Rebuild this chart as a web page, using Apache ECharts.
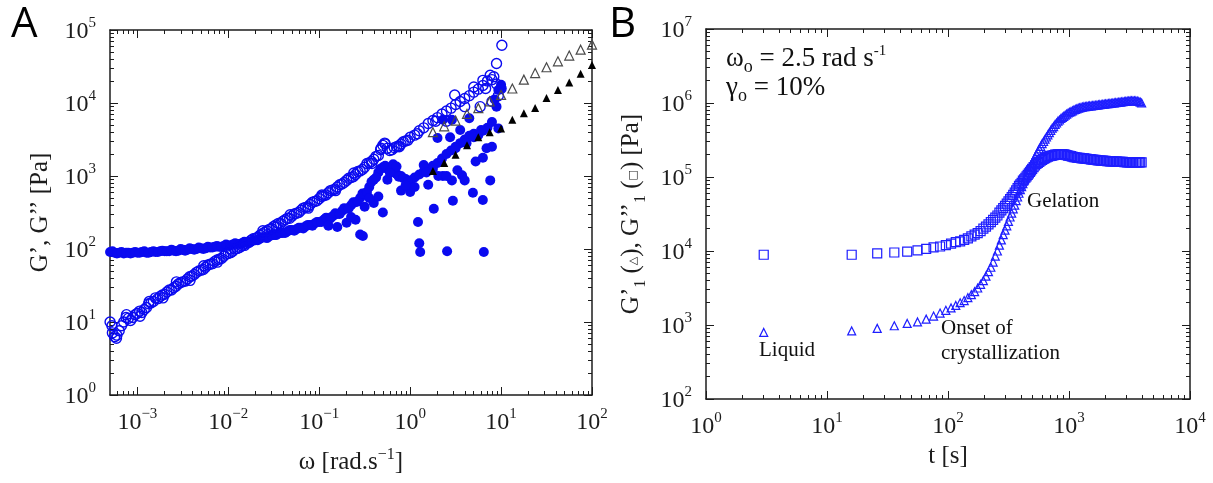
<!DOCTYPE html>
<html>
<head>
<meta charset="utf-8">
<title>G', G'' sweeps</title>
<script src="https://cdn.jsdelivr.net/npm/echarts@6.0.0/dist/echarts.min.js"></script>
<style>
    html, body { margin: 0; padding: 0; background: #fff; }
    #chart { width: 1213px; height: 483px; }
</style>
</head>
<body>
<div id="chart"></div>
<script>
// ---------- panel A : frequency sweep ----------
const omegaA = [0.000501, 0.000562, 0.000631, 0.000708, 0.000794, 0.000891, 0.001, 0.00112, 0.00126, 0.00141,
    0.00158, 0.00178, 0.002, 0.00224, 0.00251, 0.00282, 0.00316, 0.00355, 0.00398, 0.00447,
    0.00501, 0.00562, 0.00631, 0.00708, 0.00794, 0.00891, 0.01, 0.0112, 0.0126, 0.0141,
    0.0158, 0.0178, 0.02, 0.0224, 0.0251, 0.0282, 0.0316, 0.0355, 0.0398, 0.0447,
    0.0501, 0.0562, 0.0631, 0.0708, 0.0794, 0.0891, 0.1, 0.112, 0.126, 0.141,
    0.158, 0.178, 0.2, 0.224, 0.251, 0.282, 0.316, 0.355, 0.398, 0.447,
    0.501, 0.562, 0.631, 0.708, 0.794, 0.891, 1, 1.12, 1.26, 1.41,
    1.58, 1.78, 2, 2.24, 2.51, 2.82, 3.16, 3.55, 3.98, 4.47,
    5.01, 5.62, 6.31, 7.08, 7.94, 8.91, 10]
// G' (filled circles)
const gStorageA = [91, 89, 89, 87, 89, 89, 89, 91, 89, 91,
    91, 93, 93, 93, 95, 95, 98, 98, 100, 100,
    102, 102, 105, 107, 107, 110, 112, 115, 117, 120,
    123, 126, 132, 138, 145, 148, 155, 162, 166, 174,
    182, 186, 195, 204, 214, 224, 234, 251, 263, 282,
    302, 331, 355, 398, 437, 501, 575, 708, 891, 1120,
    1320, 1260, 1200, 1070, 1000, 912, 871, 955, 1050, 1150,
    1260, 1380, 1510, 1740, 2000, 2240, 2510, 2820, 3160, 3550,
    3800, 3630, 4170, 4570, 5500, 8910, 15800]
// G'' (open circles)
const gLossA = [10.0, 6.3, 7.6, 10.0, 11.2, 11.5, 13.2, 13.5, 15.8, 18.2,
    21.4, 22.4, 24.0, 27.5, 29.5, 33.1, 35.5, 38.9, 42.7, 47.9,
    51.3, 56.2, 61.7, 67.6, 72.4, 79.4, 87.1, 93.3, 102, 110,
    120, 132, 141, 155, 170, 186, 204, 224, 240, 263,
    282, 309, 339, 372, 407, 447, 490, 537, 589, 646,
    708, 776, 871, 955, 1050, 1170, 1320, 1510, 1700, 1910,
    2630, 2400, 2290, 2510, 2750, 3020, 3390, 3630, 4170, 4570,
    5250, 5750, 6310, 7080, 7760, 8510, 9550, 10500, 11500, 12600,
    14100, 15500, 17400, 20000, 20900, 18200, 15800]

// second sweep, between the points of the first one
const omegaA2 = [0.000531, 0.000596, 0.000668, 0.00075, 0.000841, 0.000944, 0.00106, 0.00119, 0.00133, 0.0015,
    0.00168, 0.00188, 0.00211, 0.00237, 0.00266, 0.00299, 0.00335, 0.00376, 0.00422, 0.00473,
    0.00531, 0.00596, 0.00668, 0.0075, 0.00841, 0.00944, 0.0106, 0.0119, 0.0133, 0.015,
    0.0168, 0.0188, 0.0211, 0.0237, 0.0266, 0.0299, 0.0335, 0.0376, 0.0422, 0.0473,
    0.0531, 0.0596, 0.0668, 0.075, 0.0841, 0.0944, 0.106, 0.119, 0.133, 0.15,
    0.168, 0.188, 0.211, 0.237, 0.266, 0.299, 0.335, 0.376, 0.422, 0.473,
    0.531, 0.596, 0.668, 0.75, 0.841, 0.944]
const gStorageA2 = [93, 87, 91, 89, 87, 91, 89, 93, 89, 93,
    91, 95, 93, 98, 93, 100, 95, 102, 98, 105,
    100, 107, 105, 110, 107, 115, 112, 120, 117, 126,
    123, 132, 132, 145, 141, 155, 155, 166, 166, 182,
    178, 195, 191, 214, 209, 234, 234, 269, 263, 309,
    302, 363, 363, 437, 447, 575, 603, 832, 955, 1260,
    1380, 1150, 1150, 977, 933, 832]
const gLossA2 = [7.1, 6.6, 8.9, 11.5, 10.5, 12.6, 14.1, 14.8, 17.8, 19.1,
    20.9, 23.4, 25.7, 27.5, 30.9, 34.7, 36.3, 41.7, 44.7, 50.1,
    52.5, 60.3, 63.1, 70.8, 74.1, 85.1, 89.1, 100, 105, 117,
    123, 138, 145, 162, 178, 191, 214, 224, 251, 263,
    302, 316, 363, 380, 437, 457, 525, 550, 631, 661,
    759, 813, 933, 977, 1150, 1230, 1480, 1580, 1860, 2290,
    2750, 2240, 2450, 2570, 2950, 3090]

// repeated-run points scattered around the two curves
const omegaStorageExtraA = [0.282, 0.302, 0.398, 0.447, 0.355, 0.501, 0.562, 0.794, 1.0, 1.22,
    1.26, 1.29, 2.55, 6.46, 1.82, 2.95, 4.9, 6.3, 7.6, 2.88,
    3.72, 2.29, 2.04, 2.51, 1.78, 2.0, 2.75, 3.16, 3.55, 2.88,
    4.47, 2.29, 4.17, 5.01, 6.03, 6.92, 9.33, 8.51, 9.33, 10,
    1.41, 1.51, 1.12, 0.891, 3.98, 5.25, 6.31, 7.94, 1.58, 3.31,
    0.65, 0.708, 0.6, 0.251, 0.2, 0.158, 0.126, 0.224, 0.316]
const gStorageExtraA = [158, 151, 427, 525, 501, 316, 891, 631, 603, 234,
    120, 91, 93, 91, 355, 457, 589, 468, 871, 871,
    1020, 1000, 1000, 1000, 1260, 3310, 3390, 2400, 4270, 5890,
    6170, 5890, 2820, 3390, 4270, 2400, 4470, 11200, 15100, 17800,
    1410, 1120, 708, 741, 871, 1580, 1780, 2510, 759, 1200,
    1450, 1350, 1100, 251, 229, 200, 209, 275, 380]
const omegaLossExtraA = [0.000525, 0.000589, 0.000759, 0.00107, 0.00135, 0.00191, 0.00269, 0.0038, 0.00537, 0.00759,
    0.0107, 0.0151, 0.024, 0.0339, 0.0479, 0.0759, 0.107, 0.151, 0.24, 0.38,
    0.479, 0.525, 0.759, 1.2, 1.91, 2.51, 3.09, 3.98, 5.01, 5.89,
    6.31, 6.76, 7.59, 7.94, 8.32, 8.91, 9.33, 10.2]
const gLossExtraA = [8.9, 6.0, 12.6, 12.0, 19.1, 21.4, 35.5, 37.2, 58.9, 66.1,
    100, 112, 178, 200, 295, 363, 550, 631, 1100, 1480,
    2400, 2820, 2510, 3800, 5620, 5620, 12900, 8910, 16600, 8910,
    20400, 15800, 24000, 10500, 22900, 34700, 12600, 61700]

// triangles (reference sample)
const omegaTriA = [1.78, 2.37, 3.16, 4.22, 5.62, 7.5, 10, 13.3, 17.8, 23.7, 31.6, 42.2, 56.2, 75, 100]
const gTriOpenA = [3980, 4790, 5750, 7080, 8510, 10500, 12900, 15800, 20900, 25700, 30900, 37200, 44700, 53700, 63100]
const gTriFilledA = [1170, 1510, 1950, 2630, 3390, 3980, 4470, 5890, 7240, 8510, 11700, 15100, 19100, 25100, 33100]

// ---------- panel B : time sweep ----------
const timeB = [3, 16, 26, 36, 46, 56, 66, 76, 86, 96,
    106, 116, 126, 136, 146, 156, 166, 176, 186, 196,
    206, 216, 226, 236, 246, 256, 266, 276, 286, 296,
    306, 316, 326, 336, 346, 356, 366, 376, 386, 396,
    406, 416, 426, 436, 446, 456, 466, 476, 486, 496,
    510, 524, 538, 553, 568, 584, 600, 617, 634, 651,
    669, 688, 707, 727, 747, 768, 789, 811, 834, 857,
    881, 905, 930, 956, 983, 1010, 1038, 1067, 1097, 1127,
    1159, 1191, 1224, 1258, 1293, 1329, 1366, 1404, 1443, 1483,
    1524, 1567, 1610, 1655, 1701, 1749, 1797, 1847, 1899, 1952,
    2006, 2062, 2119, 2178, 2239, 2301, 2365, 2431, 2499, 2568,
    2640, 2713, 2789, 2866, 2946, 3028, 3112, 3199, 3288, 3379,
    3473, 3570, 3669, 3771, 3876, 3984]
// G'1 (triangles)
const gStorageB = [794, 832, 900, 977, 1050, 1100, 1200, 1320, 1450, 1580,
    1700, 1840, 2000, 2140, 2340, 2570, 2820, 3160, 3550, 3980,
    4570, 5250, 6030, 7080, 8510, 10000, 12000, 14100, 16600, 19100,
    21900, 25100, 28800, 32400, 37200, 41700, 47900, 53700, 60300, 67600,
    74100, 81300, 89100, 97700, 105000, 115000, 123000, 135000, 145000, 155000,
    170000, 186000, 202000, 221000, 240000, 260000, 282000, 302000, 324000, 347000,
    372000, 398000, 427000, 457000, 479000, 513000, 537000, 569000, 589000, 617000,
    638000, 661000, 684000, 708000, 733000, 750000, 767000, 785000, 804000, 822000,
    832000, 851000, 861000, 871000, 881000, 891000, 895000, 902000, 908000, 912000,
    916000, 923000, 927000, 933000, 938000, 944000, 948000, 955000, 959000, 966000,
    971000, 977000, 982000, 989000, 993000, 1000000, 1005000, 1012000, 1016000, 1023000,
    1028000, 1035000, 1040000, 1047000, 1052000, 1059000, 1064000, 1072000, 1072000, 1072000,
    1072000, 1067000, 1059000, 1047000, 1028000, 1000000]
// G''1 (squares)
const gLossB = [8900, 8900, 9300, 9550, 9800, 10200, 10700, 11200, 11500, 12000,
    12600, 13200, 13500, 14100, 14800, 15800, 16600, 17400, 18600, 20000,
    21400, 22900, 24500, 26300, 28200, 30200, 33100, 35500, 38000, 40700,
    43700, 46800, 50100, 53700, 57500, 61700, 66100, 70800, 75900, 79400,
    83200, 89100, 93300, 97700, 102000, 107000, 112000, 117000, 123000, 129000,
    136000, 143000, 150000, 155000, 160000, 166000, 170000, 176000, 180000, 184000,
    188000, 191000, 193000, 195000, 197000, 200000, 201000, 202000, 203000, 204000,
    204000, 202000, 200000, 197000, 195000, 193000, 191000, 188000, 186000, 185000,
    183000, 182000, 181000, 180000, 179000, 178000, 177000, 176000, 175000, 174000,
    173000, 172000, 171000, 170000, 169000, 168000, 167000, 166000, 166000, 165000,
    165000, 164000, 164000, 163000, 163000, 162000, 162000, 161000, 161000, 160000,
    160000, 160000, 160000, 159000, 159000, 158000, 158000, 158000, 158000, 158000,
    158000, 158000, 158000, 158000, 158000, 158000]

// decade tick positions
const decadesAx = [0.001, 0.01, 0.1, 1, 10, 100]
const decadesAy = [1, 10, 100, 1000, 10000, 100000]
const decadesBx = [1, 10, 100, 1000, 10000]
const decadesBy = [100, 1000, 10000, 100000, 1000000, 10000000]

const SERIF = '"Liberation Serif", "Times New Roman", serif'
const INK = '#1c1c1c'
const BLUE = '#0a0af0'

function zip(xs, ys) {
    return xs.map(function (x, i) { return [x, ys[i]] })
}

function expText(v) {
    const e = Math.round(Math.log10(v))
    return '{b|10}{s|' + (e < 0 ? '\u2212' + (-e) : e) + '}'
}

// 2..9 x 10^k between min and max
function minorValues(min, max) {
    const out = []
    for (let k = Math.floor(Math.log10(min)); k < Math.ceil(Math.log10(max)); k++) {
        for (let m = 2; m <= 9; m++) {
            const v = m * Math.pow(10, k)
            if (v > min * 1.0001 && v < max * 0.9999) out.push(v)
        }
    }
    return out
}

const tickRich = {
    b: {fontFamily: SERIF, fontSize: 24, color: INK, verticalAlign: 'bottom'},
    s: {fontFamily: SERIF, fontSize: 15, color: INK, verticalAlign: 'bottom', padding: [0, 0, 13, 0]}
}

function frameAxis(grid, pos, min, max, ticks, len, showLine, extra) {
    return Object.assign({
        type: 'log', gridIndex: grid, position: pos, min: min, max: max,
        axisLine: {show: showLine, onZero: false, lineStyle: {color: INK, width: 1.5}},
        axisTick: {show: true, inside: true, length: len, customValues: ticks, lineStyle: {color: INK, width: 1}},
        axisLabel: {show: false},
        splitLine: {show: false},
        minorTick: {show: false}
    }, extra || {})
}

// labelled major + minor on one side, major + minor on the opposite side
function boxAxes(grid, isX, min, max, majors, nameCfg) {
    const minors = minorValues(min, max)
    const near = isX ? 'bottom' : 'left'
    const far = isX ? 'top' : 'right'
    return [
        frameAxis(grid, near, min, max, majors, 8, true, Object.assign({
            axisLabel: {
                show: true, customValues: majors, formatter: expText, rich: tickRich,
                margin: isX ? 12 : 14
            }
        }, nameCfg)),
        frameAxis(grid, near, min, max, minors, 4, false),
        frameAxis(grid, far, min, max, majors, 8, true),
        frameAxis(grid, far, min, max, minors, 4, false)
    ]
}

const nameRich = {
    n: {fontFamily: SERIF, fontSize: 25, color: INK, verticalAlign: 'bottom', padding: [0, 0, 5, 0]},
    s: {fontFamily: SERIF, fontSize: 16, color: INK, verticalAlign: 'bottom', padding: [0, 0, 17, 0]},
    sub: {fontFamily: SERIF, fontSize: 16, color: INK, verticalAlign: 'bottom'},
    m: {fontFamily: 'DejaVu Sans', fontSize: 11, color: INK, verticalAlign: 'bottom', padding: [0, 0, 10, 0]}
}

const xAxes = [].concat(
    boxAxes(0, true, 0.0005, 100, decadesAx, {
        name: '{n|\u03c9 [rad.s}{s|\u22121}{n|]}', nameLocation: 'middle', nameGap: 52,
        nameTextStyle: {rich: nameRich}
    }),
    boxAxes(1, true, 1, 10000, decadesBx, {
        name: '{n|t [s]}', nameLocation: 'middle', nameGap: 44,
        nameTextStyle: {rich: nameRich}
    })
)
const yAxes = [].concat(
    boxAxes(0, false, 1, 100000, decadesAy, {
        name: '{n|G\u2019, G\u2019\u2019 [Pa]}', nameLocation: 'middle', nameGap: 52,
        nameTextStyle: {rich: nameRich}
    }),
    boxAxes(1, false, 100, 10000000, decadesBy, {
        name: '{n|G\u2019}{sub|1}{n| (}{m|\u25b3}{n|), G\u2019\u2019}{sub|1}{n| (}{m|\u25a1}{n|) [Pa]}',
        nameLocation: 'middle', nameGap: 57,
        nameTextStyle: {rich: nameRich}
    })
)

function scatter(xi, data, symbol, size, style) {
    return {
        type: 'scatter', xAxisIndex: xi, yAxisIndex: xi, data: data,
        symbol: symbol, symbolSize: size, itemStyle: Object.assign({opacity: 1}, style),
        silent: true, clip: false, animation: false
    }
}

const hollow = 'rgba(255,255,255,0)'
const openCircle = {color: hollow, borderColor: BLUE, borderWidth: 1.4}
const openB = {color: hollow, borderColor: '#1e1eff', borderWidth: 1.2}

const chart = echarts.init(document.getElementById('chart'), null, {renderer: 'canvas'})
chart.setOption({
    backgroundColor: '#ffffff',
    animation: false,
    grid: [
        {left: 110, top: 30, width: 482, height: 365},
        {left: 706, top: 29, width: 484, height: 370}
    ],
    xAxis: xAxes,
    yAxis: yAxes,
    series: [
        scatter(0, zip(omegaA, gStorageA), 'circle', 10, {color: BLUE}),
        scatter(0, zip(omegaA2, gStorageA2), 'circle', 10, {color: BLUE}),
        scatter(0, zip(omegaStorageExtraA, gStorageExtraA), 'circle', 10, {color: BLUE}),
        scatter(0, zip(omegaA, gLossA), 'circle', 10, openCircle),
        scatter(0, zip(omegaA2, gLossA2), 'circle', 10, openCircle),
        scatter(0, zip(omegaLossExtraA, gLossExtraA), 'circle', 10, openCircle),
        scatter(0, zip(omegaTriA, gTriOpenA), 'triangle', 9, {color: hollow, borderColor: '#4a4a4a', borderWidth: 1.2}),
        scatter(0, zip(omegaTriA, gTriFilledA), 'triangle', 8, {color: '#000'}),
        scatter(4, zip(timeB, gLossB), 'rect', 9, openB),
        scatter(4, zip(timeB, gStorageB), 'triangle', 8, openB)
    ],
    graphic: [
        {type: 'text', left: 11, top: 4, style: {text: 'A', font: '42px "Open Sans"', fill: '#000'}},
        {type: 'text', left: 609, top: 4, style: {text: 'B', font: '42px "Open Sans"', fill: '#000'}},
        {
            type: 'text', left: 726, top: 44, style: {
                text: '{n|\u03c9}{sub|o}{n| = 2.5 rad s}{sup|-1}',
                rich: {
                    n: {fontFamily: SERIF, fontSize: 27, fill: '#111', verticalAlign: 'bottom', padding: [0, 0, 4, 0]},
                    sub: {fontFamily: SERIF, fontSize: 18, fill: '#111', verticalAlign: 'bottom'},
                    sup: {fontFamily: SERIF, fontSize: 15, fill: '#111', verticalAlign: 'bottom', padding: [0, 0, 17, 0]}
                }
            }
        },
        {
            type: 'text', left: 726, top: 74, style: {
                text: '{n|\u03b3}{sub|o}{n| = 10%}',
                rich: {
                    n: {fontFamily: SERIF, fontSize: 27, fill: '#111', verticalAlign: 'bottom', padding: [0, 0, 4, 0]},
                    sub: {fontFamily: SERIF, fontSize: 18, fill: '#111', verticalAlign: 'bottom'}
                }
            }
        },
        {type: 'text', left: 1027, top: 191, style: {text: 'Gelation', font: '21px ' + SERIF, fill: '#111'}},
        {type: 'text', left: 759, top: 340, style: {text: 'Liquid', font: '21px ' + SERIF, fill: '#111'}},
        {type: 'text', left: 941, top: 316, style: {text: 'Onset of\ncrystallization', font: '21px ' + SERIF, fill: '#111', lineHeight: 25}}
    ]
})
</script>
</body>
</html>
